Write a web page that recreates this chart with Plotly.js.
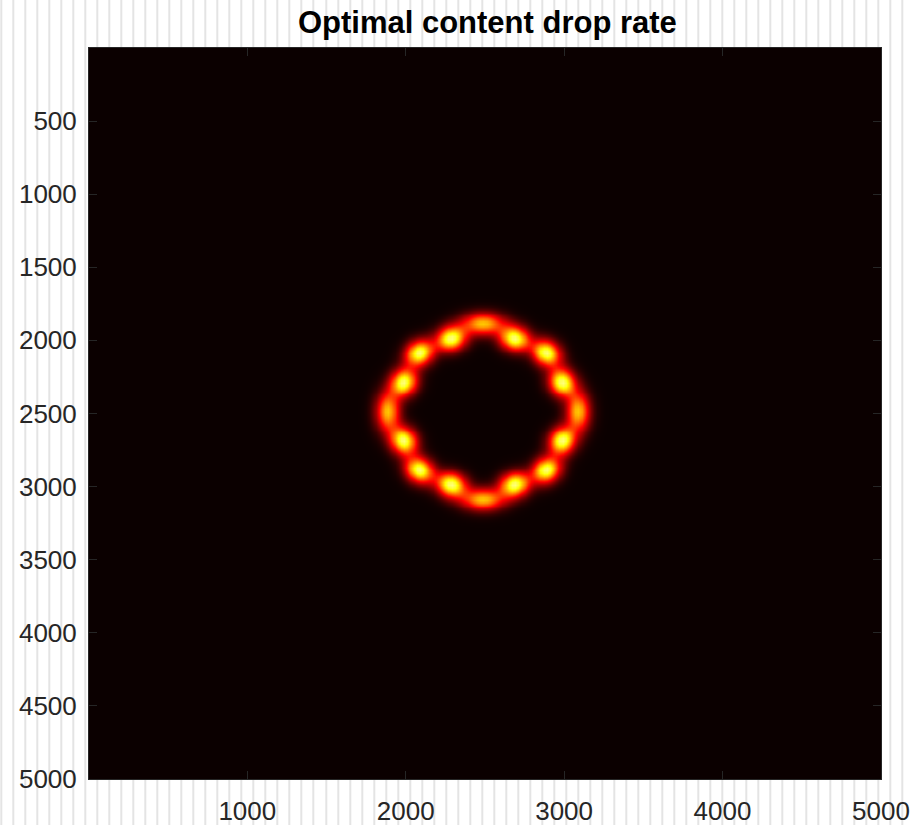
<!DOCTYPE html>
<html>
<head>
<meta charset="utf-8">
<script src="https://cdn.plot.ly/plotly-3.0.1.min.js"></script>
<style>
  html, body { margin: 0; padding: 0; background: #ffffff; }
  #chart {
    width: 913px; height: 825px;
    background-image: repeating-linear-gradient(to right, #e4e4e4 0px, #e4e4e4 2px, #ffffff 2px, #ffffff 12.02px);
    background-position: 12.3px 0;
  }
</style>
</head>
<body>
<div id="chart"></div>
<script>
// ---- Data ----
// Image size (pixels of the underlying matrix)
var imageSize = 5000;
// Bright spots along the ring (image coordinates, y measured downward)
var spotX = [2485, 2685, 2885, 2985, 3085, 2985, 2885, 2685, 2485, 2285, 2085, 1985, 1885, 1985, 2085, 2285];
var spotY = [1885, 1985, 2085, 2285, 2485, 2685, 2885, 2985, 3085, 2985, 2885, 2685, 2485, 2285, 2085, 1985];
// Peak drop rate at each spot (normalised) and tangential / radial spread
var spotPeak = [0.66, 0.86, 0.86, 0.86, 0.66, 0.86, 0.86, 0.86, 0.66, 0.86, 0.86, 0.86, 0.66, 0.86, 0.86, 0.86];
var spotSpreadAlong = [92, 66, 66, 66, 92, 66, 66, 66, 92, 66, 66, 66, 92, 66, 66, 66];
var spotSpreadAcross = [52, 56, 56, 56, 52, 56, 56, 56, 52, 56, 56, 56, 52, 56, 56, 56];
var ringCenterX = 2485, ringCenterY = 2485;
// Axis ticks
var xTicks = [1000, 2000, 3000, 4000, 5000];
var yTicks = [500, 1000, 1500, 2000, 2500, 3000, 3500, 4000, 4500, 5000];

// ---- Build the sampled field from the spots ----
var step = 20;
var gx = [], gy = [];
for (var v = step / 2; v < imageSize; v += step) { gx.push(v); gy.push(v); }
var z = [];
for (var j = 0; j < gy.length; j++) {
  var row = [];
  for (var i = 0; i < gx.length; i++) {
    var s = 0;
    for (var k = 0; k < spotX.length; k++) {
      var dx = gx[i] - spotX[k], dy = gy[j] - spotY[k];
      if (Math.abs(dx) > 500 || Math.abs(dy) > 500) continue;
      var rx = spotX[k] - ringCenterX, ry = spotY[k] - ringCenterY;
      var rl = Math.sqrt(rx * rx + ry * ry);
      var nx = rx / rl, ny = ry / rl;
      var across = dx * nx + dy * ny;
      var along = -dx * ny + dy * nx;
      s += spotPeak[k] * Math.exp(-(along * along) / (2 * spotSpreadAlong[k] * spotSpreadAlong[k])
                                  - (across * across) / (2 * spotSpreadAcross[k] * spotSpreadAcross[k]));
    }
    row.push(s);
  }
  z.push(row);
}

var hot = [
  [0, 'rgb(11,0,0)'],
  [0.365, 'rgb(255,0,0)'],
  [0.746, 'rgb(255,255,0)'],
  [1, 'rgb(255,255,255)']
];

var trace = {
  type: 'heatmap',
  x: gx, y: gy, z: z,
  colorscale: hot, zmin: 0, zmax: 1,
  zsmooth: 'best', showscale: false, hoverinfo: 'skip'
};

var tickFont = {family: 'Liberation Sans, Arial, sans-serif', size: 26, color: '#262626'};
var layout = {
  width: 913, height: 825,
  margin: {l: 89, r: 32, t: 48, b: 46, pad: 0},
  paper_bgcolor: 'rgba(0,0,0,0)',
  plot_bgcolor: 'rgb(11,0,0)',
  showlegend: false,
  title: {
    text: '<b>Optimal content drop rate</b>',
    font: {family: 'Liberation Sans, Arial, sans-serif', size: 31, color: '#000000'},
    xref: 'paper', x: 0.503, xanchor: 'center',
    yref: 'container', y: 1 - 22.5 / 825, yanchor: 'middle'
  },
  xaxis: {
    range: [0.5, imageSize + 0.5],
    tickvals: xTicks, ticktext: xTicks.map(String),
    ticks: 'inside', ticklen: 8, tickwidth: 1, tickcolor: '#262626',
    showline: true, linecolor: '#262626', linewidth: 1, mirror: 'ticks',
    showgrid: false, zeroline: false, tickfont: tickFont, ticklabelstandoff: 9
  },
  yaxis: {
    range: [imageSize + 0.5, 0.5],
    tickvals: yTicks, ticktext: yTicks.map(String),
    ticks: 'inside', ticklen: 8, tickwidth: 1, tickcolor: '#262626',
    showline: true, linecolor: '#262626', linewidth: 1, mirror: 'ticks',
    showgrid: false, zeroline: false, tickfont: tickFont, ticklabelstandoff: 6
  }
};

Plotly.newPlot('chart', [trace], layout, {displayModeBar: false, staticPlot: true});
</script>
</body>
</html>
